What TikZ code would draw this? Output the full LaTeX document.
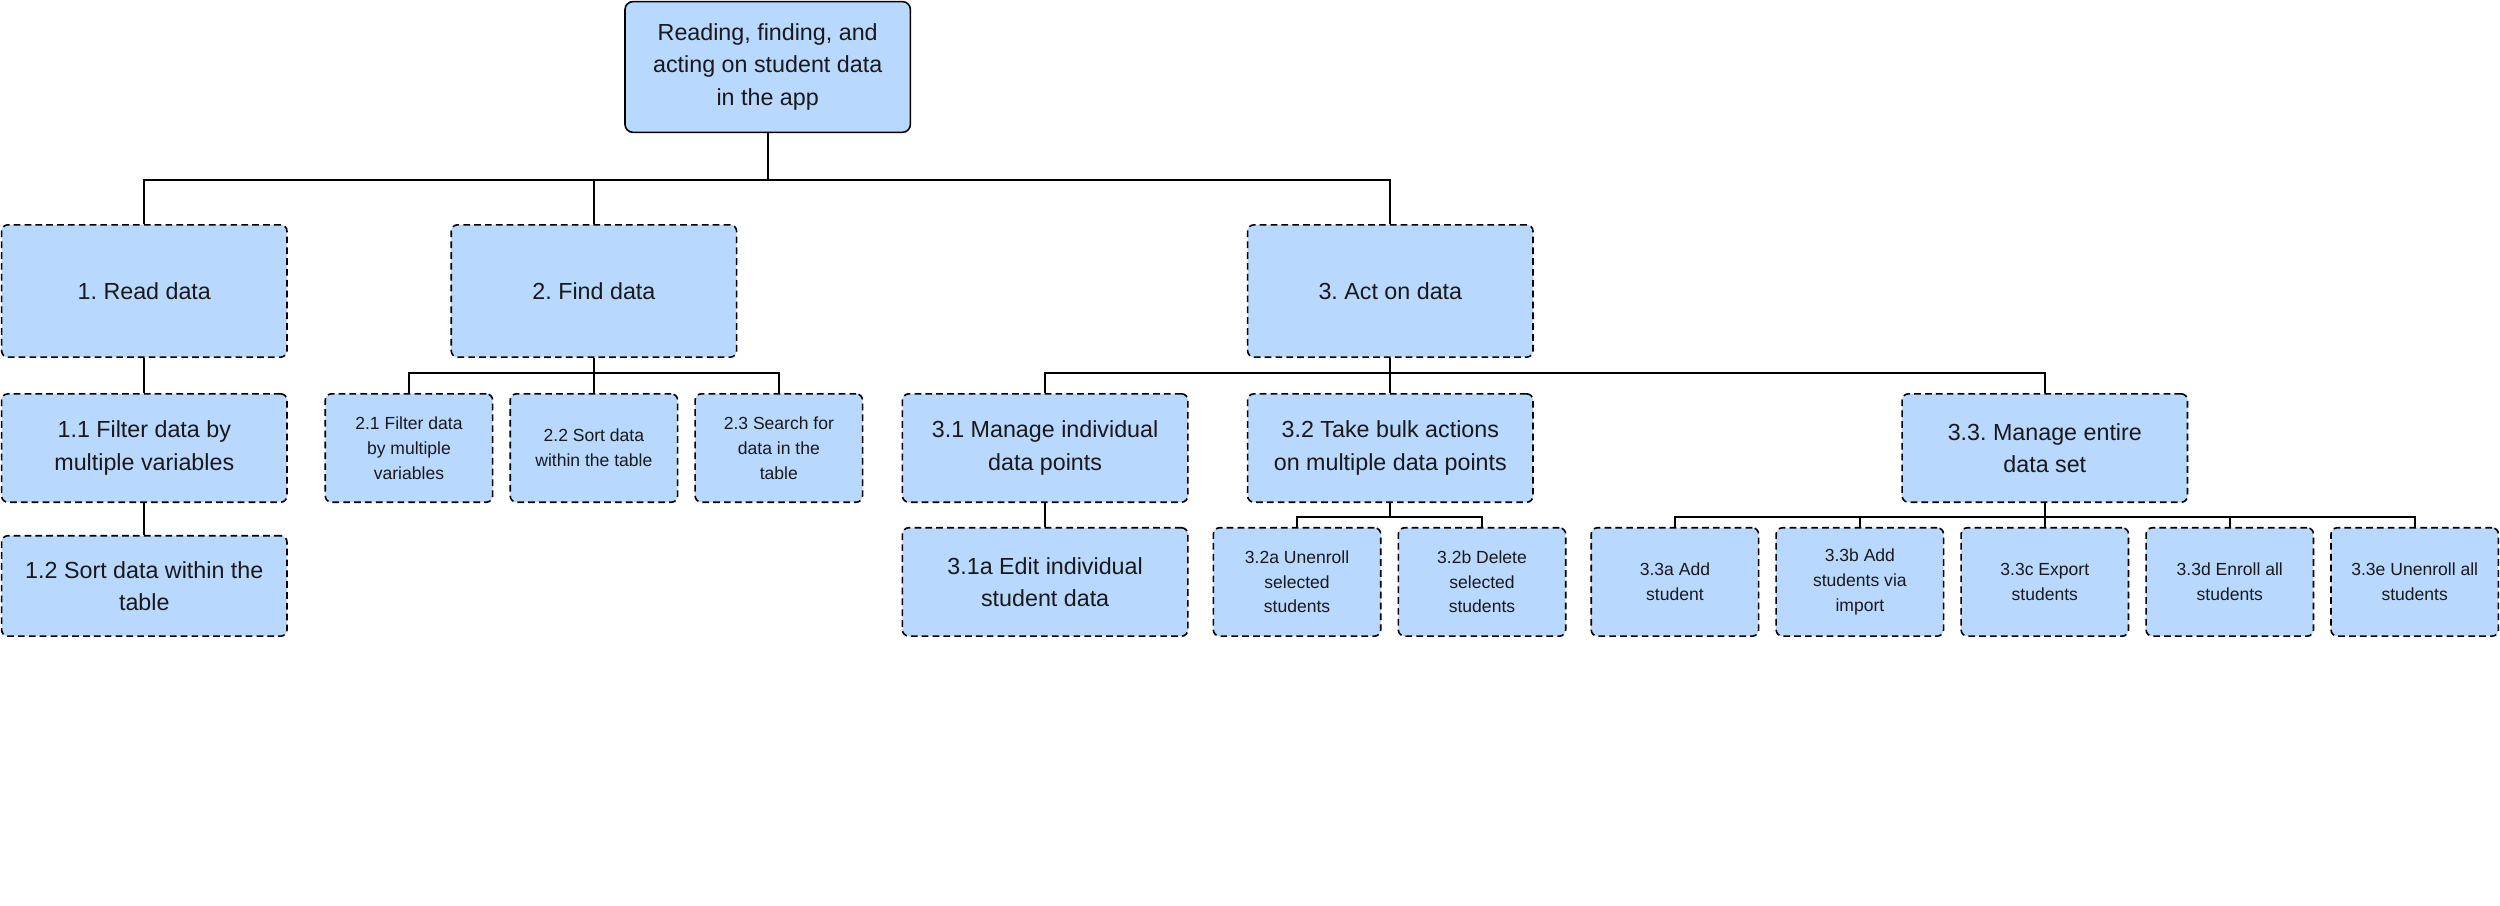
\documentclass[tikz,border=0pt]{standalone}
\usepackage{fontspec}
\setmainfont{Liberation Sans}
\frenchspacing
\definecolor{boxblue}{HTML}{B8D8FE}
\newcommand{\bigf}{\fontsize{7.3pt}{10.2pt}\selectfont}
\newcommand{\smallf}{\fontsize{5.5pt}{7.75pt}\selectfont}
\tikzset{
  basebox/.style={draw=black, fill=boxblue, line width=0.5pt, inner sep=1pt, align=center, text=black!90},
  rootbox/.style={basebox, rounded corners=2.5pt, minimum width=89.5pt, minimum height=41pt, font=\bigf},
  bigbox/.style={basebox, dash pattern=on 2.1pt off 1.3pt, rounded corners=2pt, minimum width=89.5pt, font=\bigf},
  smallbox/.style={basebox, dash pattern=on 2.1pt off 1.3pt, rounded corners=2pt, minimum width=52.5pt, minimum height=34pt, font=\smallf},
  link/.style={draw=black, line width=0.6pt}
}
\begin{document}
\begin{tikzpicture}[x=0.5pt, y=-0.5pt]
\useasboundingbox (0,0) rectangle (1568,568);
% root
\node[rootbox] (root) at (481.5,42) {Reading, finding, and\\acting on student data\\in the app};
% level 1
\node[bigbox, minimum height=41.5pt] (n1) at (90.5,182.5) {1. Read data};
\node[bigbox, minimum height=41.5pt] (n2) at (372.5,182.5) {2. Find data};
\node[bigbox, minimum height=41.5pt] (n3) at (872,182.5) {3. Act on data};
% branch 1
\node[bigbox, minimum height=34pt] (n11) at (90.5,281) {1.1 Filter data by\\multiple variables};
\node[bigbox, minimum height=31.5pt] (n12) at (90.5,367.5) {1.2 Sort data within the\\table};
% branch 2
\node[smallbox] (n21) at (256.5,281) {2.1 Filter data\\by multiple\\variables};
\node[smallbox] (n22) at (372.5,281) {2.2 Sort data\\within the table};
\node[smallbox] (n23) at (488.5,281) {2.3 Search for\\data in the\\table};
% branch 3
\node[bigbox, minimum height=34pt] (n31) at (655.5,281) {3.1 Manage individual\\data points};
\node[bigbox, minimum height=34pt] (n32) at (872,281) {3.2 Take bulk actions\\on multiple data points};
\node[bigbox, minimum height=34pt] (n33) at (1282.5,281) {3.3. Manage entire\\data set};
\node[bigbox, minimum height=34pt] (n31a) at (655.5,365) {3.1a Edit individual\\student data};
\node[smallbox] (n32a) at (813.5,365) {3.2a Unenroll\\selected\\students};
\node[smallbox] (n32b) at (929.5,365) {3.2b Delete\\selected\\students};
\node[smallbox] (n33a) at (1050.5,365) {3.3a Add\\student};
\node[smallbox] (n33b) at (1166.5,365) {3.3b Add\\students via\\import};
\node[smallbox] (n33c) at (1282.5,365) {3.3c Export\\students};
\node[smallbox] (n33d) at (1398.5,365) {3.3d Enroll all\\students};
\node[smallbox] (n33e) at (1514.5,365) {3.3e Unenroll all\\students};
% bus coordinates
\coordinate (b0) at (481.5,113);
\coordinate (b2) at (372.5,234);
\coordinate (b3) at (872,234);
\coordinate (b32) at (872,324);
\coordinate (b33) at (1282.5,324);
% connectors
\draw[link] (root.south) -- (b0);
\draw[link] (n1.north) |- (b0) -| (n3.north);
\draw[link] (n2.north) -- (n2.north |- b0);
\draw[link] (n1.south) -- (n11.north);
\draw[link] (n11.south) -- (n12.north);
\draw[link] (n2.south) -- (b2);
\draw[link] (n21.north) |- (b2) -| (n23.north);
\draw[link] (n22.north) -- (n22.north |- b2);
\draw[link] (n3.south) -- (b3);
\draw[link] (n31.north) |- (b3) -| (n33.north);
\draw[link] (n32.north) -- (n32.north |- b3);
\draw[link] (n31.south) -- (n31a.north);
\draw[link] (n32.south) -- (b32);
\draw[link] (n32a.north) |- (b32) -| (n32b.north);
\draw[link] (n33.south) -- (b33);
\draw[link] (n33a.north) |- (b33) -| (n33e.north);
\draw[link] (n33b.north) -- (n33b.north |- b33);
\draw[link] (n33c.north) -- (n33c.north |- b33);
\draw[link] (n33d.north) -- (n33d.north |- b33);
\end{tikzpicture}
\end{document}
